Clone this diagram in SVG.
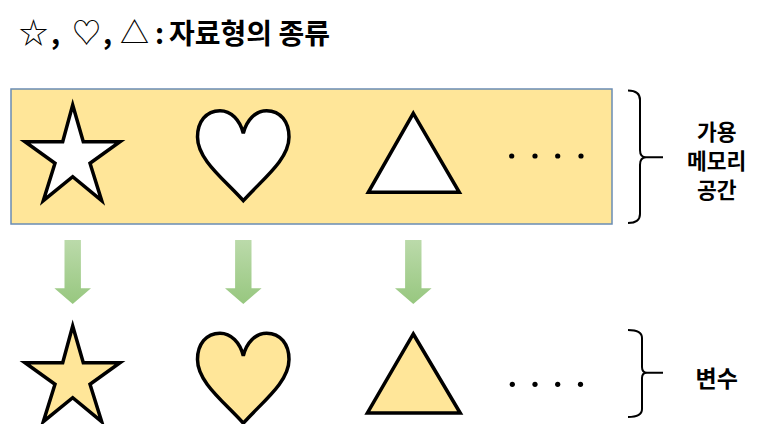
<svg xmlns="http://www.w3.org/2000/svg" width="766" height="424" viewBox="0 0 766 424">
<defs>
<linearGradient id="g" x1="0" y1="0" x2="0" y2="1">
<stop offset="0" stop-color="#BBDAAA"/>
<stop offset="1" stop-color="#97C77F"/>
</linearGradient>
<path id="star" d="M72.7,105 L83.3,141.7 L120,141.7 L90,163.3 L101.7,200.7 L72.7,176.7 L43.3,200.7 L55,163.3 L25,141.7 L62.7,141.7 Z"/>
<path id="heart" d="M243.3,133.3 C240,120 231,110.7 220,110.7 C206,110.7 197.5,122 197.5,137 C197.5,160 225,180 243.3,200.7 C261.6,180 289,160 289,137 C289,122 280.6,110.7 266.6,110.7 C255.6,110.7 246.6,120 243.3,133.3 Z"/>
<path id="tri" d="M413.3,113.3 L459.3,192.3 L368.3,192.3 Z"/>
<path id="arrow" d="M-8.2,0 L8.2,0 L8.2,48.3 L18.3,48.3 L0,64 L-18.3,48.3 L-8.2,48.3 Z"/>
</defs>
<style>
text{font-family:"Noto Sans CJK KR","Noto Sans",sans-serif;font-weight:bold;fill:#000}
.shape{stroke:#000;stroke-width:3.5;stroke-linejoin:miter}
.white{fill:#fff}
.yellow{fill:#FFE699}
.brace{fill:none;stroke:#000;stroke-width:2}
.dot{fill:#000}
.lbl{font-size:21.5px;text-anchor:middle}
.sym{font-weight:normal;font-size:29px}
</style>
<text y="44" font-size="28"><tspan x="19" class="sym">☆</tspan><tspan x="51">,</tspan><tspan x="72" class="sym">♡</tspan><tspan x="103">,</tspan><tspan x="120" class="sym">△</tspan><tspan x="155">:</tspan><tspan x="169">자료형의 종류</tspan></text>
<g id="memory">
<rect x="11" y="89" width="601" height="135" fill="#FFE699" stroke="#6A8CB4" stroke-width="1.5"/>
<use href="#star" class="shape white"/>
<use href="#heart" class="shape white"/>
<use href="#tri" class="shape white"/>
<circle class="dot" cx="511.7" cy="156" r="2.6"/>
<circle class="dot" cx="535" cy="156" r="2.6"/>
<circle class="dot" cx="557.7" cy="156" r="2.6"/>
<circle class="dot" cx="581" cy="156" r="2.6"/>
</g>
<g id="variables">
<use href="#star" class="shape yellow" transform="translate(0,221)"/>
<use href="#heart" class="shape yellow" transform="translate(0,222.5)"/>
<use href="#tri" class="shape yellow" transform="translate(413.3,334) scale(1.02,1) translate(-413.3,-113.3)"/>
<circle class="dot" cx="512.3" cy="384.3" r="2.6"/>
<circle class="dot" cx="535" cy="384.3" r="2.6"/>
<circle class="dot" cx="557.7" cy="384.3" r="2.6"/>
<circle class="dot" cx="580.5" cy="384.3" r="2.6"/>
</g>
<g id="connectors">
<use href="#arrow" fill="url(#g)" transform="translate(72.7,240)"/>
<use href="#arrow" fill="url(#g)" transform="translate(243.3,240)"/>
<use href="#arrow" fill="url(#g)" transform="translate(413.3,240)"/>
</g>
<g id="brace-memory">
<path class="brace" d="M628,90.5 Q640,90.5 640,100 L640,150 Q640,157.3 646,157.3 L663,157.3 M646,157.3 Q640,157.3 640,165 L640,214 Q640,223 628,223"/>
<text x="716.7" y="139.5" class="lbl">가용</text>
<text x="716.7" y="168.5" class="lbl">메모리</text>
<text x="716.7" y="197.5" class="lbl">공간</text>
</g>
<g id="brace-variable">
<path class="brace" d="M628,330 Q642,330 642,338 L642,367 Q642,372.7 647,372.7 L663,372.7 M647,372.7 Q642,372.7 642,378 L642,409 Q642,417 628,417"/>
<text x="716.7" y="387" class="lbl" style="font-size:23px">변수</text>
</g>
</svg>
